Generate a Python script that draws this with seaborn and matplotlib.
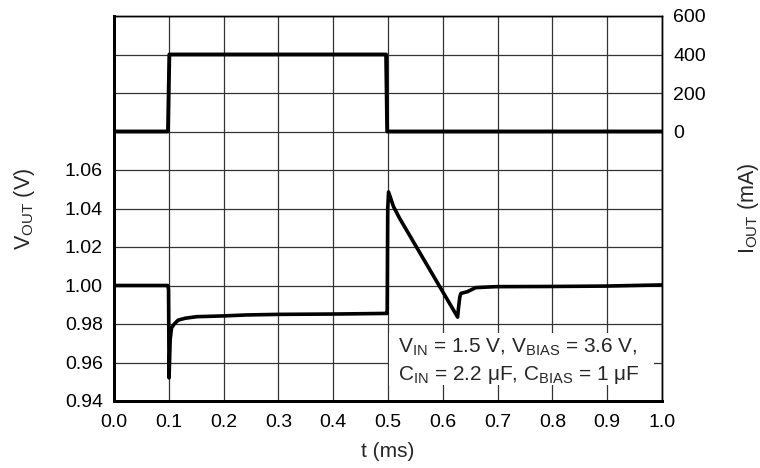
import matplotlib

matplotlib.use("Agg")

import matplotlib.patches as patches
import matplotlib.pyplot as plt
import pandas as pd
import seaborn as sns

# VOUT trace (V)
t_vout = [0.0, 0.098, 0.0995, 0.1000, 0.1005, 0.1025, 0.105, 0.110, 0.117,
          0.130, 0.151, 0.200, 0.242, 0.300, 0.410, 0.4975, 0.4985, 0.4995,
          0.501, 0.510, 0.521, 0.627, 0.6285, 0.631,
          0.633, 0.645, 0.660, 0.697, 0.800, 0.897, 1.0]
vout = [1.000, 1.000, 0.998, 0.975, 0.952, 0.972, 0.978, 0.980, 0.982,
        0.983, 0.9838, 0.9842, 0.9847, 0.985, 0.9852, 0.9855, 0.9855, 1.040,
        1.0486, 1.041, 1.035, 0.9836, 0.988, 0.994,
        0.9959, 0.9968, 0.9989, 0.9994, 0.9995, 0.9997, 1.0003]

# IOUT load step (mA)
t_iout = [0.0, 0.0985, 0.1010, 0.4965, 0.4985, 1.0]
iout = [0, 0, 400, 400, 0, 0]

x_ticks = [0.0, 0.1, 0.2, 0.3, 0.4, 0.5, 0.6, 0.7, 0.8, 0.9, 1.0]
v_ticks = [0.94, 0.96, 0.98, 1.00, 1.02, 1.04, 1.06, 1.08, 1.10, 1.12, 1.14]
v_labels = ["0.94", "0.96", "0.98", "1.00", "1.02", "1.04", "1.06", "", "", "", ""]
i_ticks = [0, 200, 400, 600]

sns.set_theme(style="white")
plt.rcParams["font.family"] = ["Liberation Sans", "DejaVu Sans"]
plt.rcParams["mathtext.fontset"] = "custom"
plt.rcParams["mathtext.rm"] = "Liberation Sans"
plt.rcParams["mathtext.it"] = "Liberation Sans:italic"
plt.rcParams["mathtext.bf"] = "Liberation Sans:bold"

df_v = pd.DataFrame({"t": t_vout, "v": vout})
df_i = pd.DataFrame({"t": t_iout, "i": iout})

fig = plt.figure(figsize=(7.6, 4.68), dpi=100)
ax = fig.add_axes([114 / 760, 67 / 468, 548 / 760, 385 / 468])
ax2 = ax.twinx()

sns.lineplot(data=df_v, x="t", y="v", ax=ax, color="black", lw=2.6,
             estimator=None, sort=False, zorder=3)
sns.lineplot(data=df_i, x="t", y="i", ax=ax2, color="black", lw=2.8,
             estimator=None, sort=False, zorder=3)

ax.set_xlim(0, 1.0)
ax.set_ylim(0.94, 1.14)
ax2.set_ylim(-1400, 600)

ax.set_xticks(x_ticks)
ax.set_xticklabels([f"{x:.1f}" for x in x_ticks], fontsize=14)
ax.set_yticks(v_ticks)
ax.set_yticklabels(v_labels, fontsize=14)
ax2.set_yticks(i_ticks)
ax2.set_yticklabels([str(i) for i in i_ticks], fontsize=14)

ax.tick_params(axis="x", length=0, pad=9.5, colors="black")
ax.tick_params(axis="y", length=0, pad=8, colors="black")
ax2.tick_params(axis="y", length=0, pad=8, colors="black")

ax.grid(True, color="#333333", lw=0.9)
ax.set_axisbelow(True)

for a in (ax, ax2):
    a.spines["left"].set_linewidth(2.0)
    a.spines["bottom"].set_linewidth(2.0)
    a.spines["top"].set_linewidth(1.0)
    a.spines["right"].set_linewidth(1.0)
    for s in a.spines.values():
        s.set_color("black")

ax.set_xlabel("t (ms)", fontsize=15, labelpad=8)
ax.set_ylabel(r"V$_{\mathrm{OUT}}$ (V)", fontsize=15.5, labelpad=20)
ax2.set_ylabel(r"I$_{\mathrm{OUT}}$ (mA)", fontsize=15.5, labelpad=22)

# condition box: white patch that hides the grid behind the text
ax.add_patch(patches.Rectangle((0.502, 0.9483), 0.483, 0.027, facecolor="white",
                               edgecolor="none", zorder=2))
ax.text(0.5177, 0.9651, r"V$_{\mathrm{IN}}$ = 1.5 V, V$_{\mathrm{BIAS}}$ = 3.6 V,",
        fontsize=15, va="baseline", ha="left", zorder=4)
ax.text(0.5177, 0.9509, r"C$_{\mathrm{IN}}$ = 2.2 μF, C$_{\mathrm{BIAS}}$ = 1 μF",
        fontsize=15, va="baseline", ha="left", zorder=4)

fig.savefig("out.png", dpi=100)
